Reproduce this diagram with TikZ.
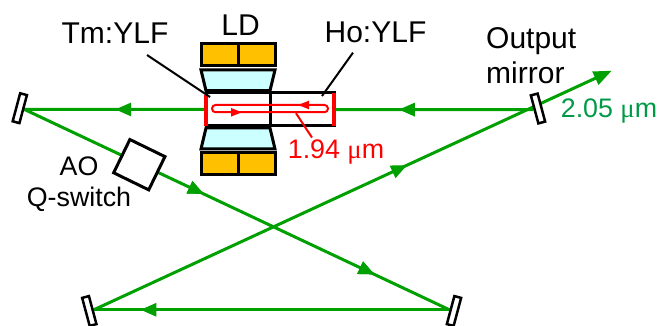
\documentclass[tikz,border=0pt]{standalone}
\usepackage{fontspec}
\setmainfont{Liberation Sans}
\newfontfamily\symfont{Liberation Serif}
\usetikzlibrary{arrows.meta,backgrounds,decorations.markings}
\definecolor{beamgreen}{HTML}{00A000}
\definecolor{labelgreen}{HTML}{009A46}
\definecolor{ldorange}{HTML}{FFC000}
\definecolor{lenscyan}{HTML}{CCFFFF}
\tikzset{
  lbl/.style={font=\fontsize{30}{35}\selectfont, inner sep=0pt, align=center},
  smalllbl/.style={font=\fontsize{26.8}{31}\selectfont, inner sep=0pt, align=center},
  mirror/.style={draw=black, fill=white, line width=2.5pt, minimum width=7pt, minimum height=29pt, inner sep=0pt},
  beam/.style={draw=beamgreen, line width=3pt},
  beam mark/.style={postaction=decorate, decoration={markings, mark=at position #1 with {\arrow[beamgreen]{Triangle[length=16pt,width=13pt]}}}},
  rod/.style={draw=black, line width=3pt, minimum width=64pt, minimum height=33pt, inner sep=0pt, outer sep=0pt},
  ldbar/.style={draw=black, fill=ldorange, line width=3pt, minimum width=37pt, minimum height=22pt, inner sep=0pt},
  lens/.style={draw=black, fill=lenscyan, line width=3pt},
  redbar/.style={draw=red, line width=4pt},
  redline/.style={draw=red, line width=2pt},
  redtip/.style={redline, -{Triangle[length=11pt,width=8pt]}},
  leader/.style={draw=black, line width=2pt}
}
\begin{document}
\begin{tikzpicture}[x=1pt,y=-1pt]
\useasboundingbox (0,0) rectangle (657,326);

% mirrors
\node (mirrorL) [mirror, rotate=-15] at (19.8,108.2) {};
\node (mirrorOut) [mirror, rotate=15] at (538,108.5) {};
\node (mirrorBL) [mirror, rotate=15] at (89.3,311) {};
\node (mirrorBR) [mirror, rotate=-15] at (454,311) {};
\node (aoBox) [draw=black, fill=white, line width=3pt, rotate=-26, minimum width=39pt, minimum height=37pt, inner sep=0pt] at (139.3,164.7) {};

% crystals
\node (tmRod) [rod, fill=white] at (238,109.5) {};
\node (hoRod) [rod, fill=white] at (302,109.5) {};
\coordinate (outTip) at (611.7,70.7);

% pump
\node (ldTopL) [ldbar] at (219.5,55) {};
\node (ldTopR) [ldbar] at (256.5,55) {};
\node (ldBotL) [ldbar] at (219.5,163.7) {};
\node (ldBotR) [ldbar] at (256.5,163.7) {};
\draw [lens] (201,70) -- (275,70) -- (270,90.7) -- (206,90.7) -- cycle;
\draw [lens] (206,128) -- (270,128) -- (275,149) -- (201,149) -- cycle;

% cavity
\begin{scope}[on background layer]
\draw [beam, beam mark=0.675] (mirrorOut.west) -- (hoRod.east);
\draw [beam, beam mark=0.5] (tmRod.west) -- (mirrorL.east);
\draw [beam, beam mark=0.4225, beam mark=0.824] (mirrorL.east) -- (mirrorBR.west);
\draw [beam, beam mark=0.869] (mirrorBR.west) -- (mirrorBL.east);
\draw [beam, beam mark=0.605, -{Triangle[length=18pt,width=14pt]}] (mirrorBL.east) -- (outTip);
\end{scope}

\draw [redbar] (tmRod.north west) ++(0,2) -- (tmRod.south west);
\draw [redbar] (hoRod.north east) -- (hoRod.south east);

% red loop
\node (redLoop) [redline, rounded corners=3.6pt, minimum width=116pt, minimum height=7.3pt, inner sep=0pt] at (270,108.6) {};
\coordinate (tipA) at (242,112.3);
\coordinate (tipB) at (298,105);
\draw [redtip] ([xshift=-12pt]tipA) -- (tipA);
\draw [redtip] ([xshift=12pt]tipB) -- (tipB);

% labels
\node (ldLab) [lbl] at (240.5,25.5) {LD};
\node (tmLab) [lbl] at (115,33.5) {Tm:YLF};
\node (hoLab) [lbl] at (375.5,32) {Ho:YLF};
\node (outLab) [lbl, align=left, anchor=west] at (486,56) {Output\\mirror};
\node (aoLab) [smalllbl] at (79,184) {AO\\Q-switch};
\node (redLab) [smalllbl, text=red] at (336,152) {1.94 {\symfont μ}m};
\node (greenLab) [smalllbl, text=labelgreen] at (609,111) {2.05 {\symfont μ}m};

% leaders
\draw [leader] ([xshift=32pt,yshift=-11pt]tmLab.south) -- ([xshift=4pt,yshift=-4pt]tmRod.north west);
\draw [leader] ([xshift=-22.5pt,yshift=-10pt]hoLab.south) -- ([xshift=20pt,yshift=-3pt]hoRod.north);
\draw [red, line width=2pt] ([xshift=26pt]redLoop.south) -- ([xshift=-24pt,yshift=2pt]redLab.north);

\end{tikzpicture}
\end{document}
